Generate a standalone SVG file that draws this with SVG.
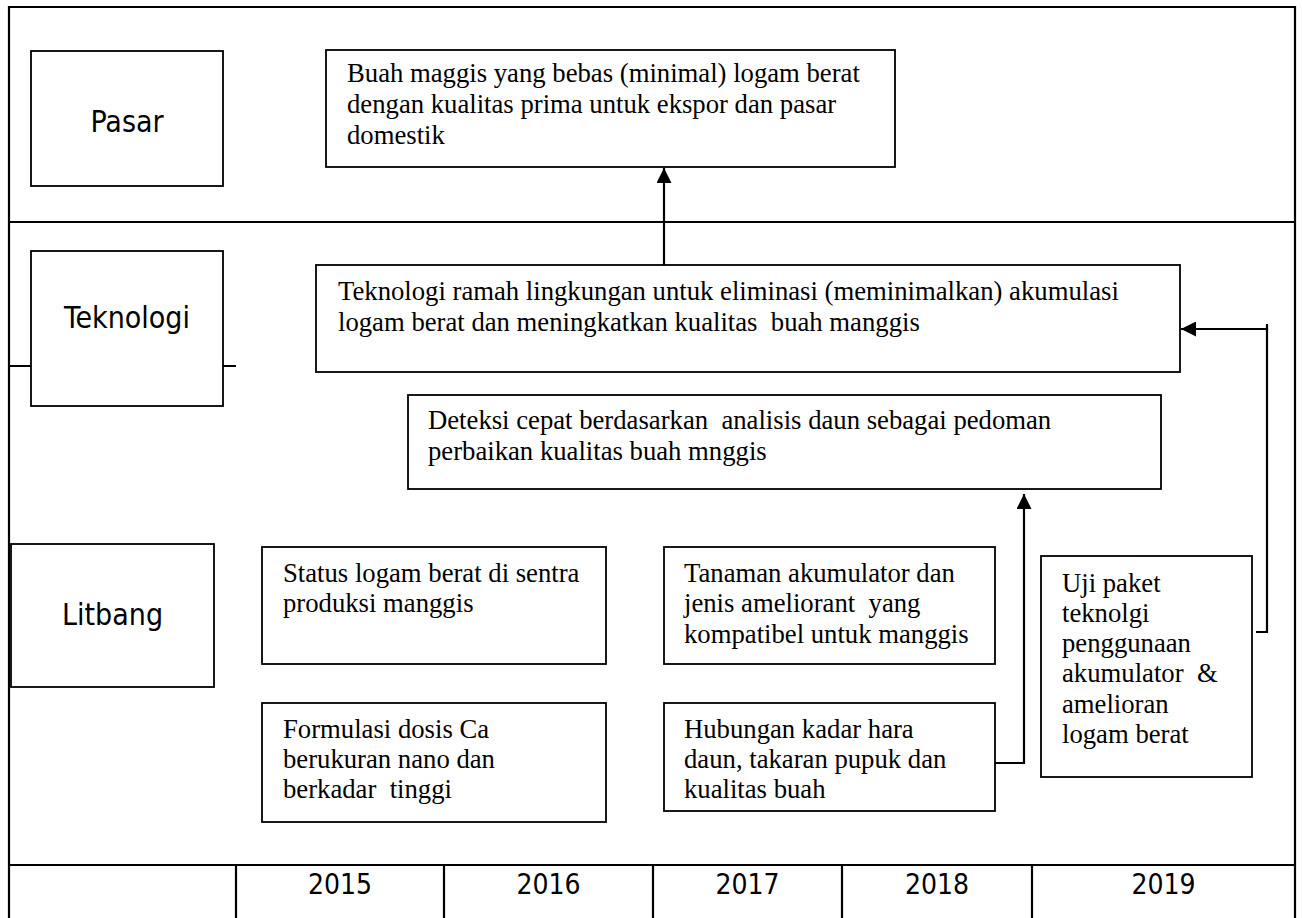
<svg xmlns="http://www.w3.org/2000/svg" width="1302" height="918" viewBox="0 0 1302 918">
<style>
.frame{stroke:#000;stroke-width:2.2;fill:none}
.box{fill:#fff;stroke:#000;stroke-width:1.8}
.lab{font-family:"DejaVu Sans Condensed","DejaVu Sans",sans-serif;font-stretch:condensed;font-size:30px;fill:#000;text-anchor:middle}
.yr{font-family:"DejaVu Sans Condensed","DejaVu Sans",sans-serif;font-stretch:condensed;font-size:28px;fill:#000;text-anchor:middle}
.t{font-family:"Liberation Serif","Times New Roman",serif;font-size:26.7px;fill:#000;white-space:pre}
.con{stroke:#000;stroke-width:2.2;fill:none}
</style>
<defs>
<marker id="ah" markerWidth="8" markerHeight="8" refX="7" refY="4" orient="auto" markerUnits="userSpaceOnUse" viewBox="0 0 8 8">
<path d="M0,0 L8,4 L0,8 Z" fill="#000"/>
</marker>
<marker id="arr" markerWidth="15" markerHeight="15" refX="15" refY="7.5" orient="auto" markerUnits="userSpaceOnUse">
<path d="M0,0 L15,7.5 L0,15 Z" fill="#000"/>
</marker>
</defs>
<rect width="1302" height="918" fill="#fff"/>
<g id="grid">
<line class="frame" x1="9" y1="7" x2="1295" y2="7"/>
<line class="frame" x1="9" y1="6" x2="9" y2="920"/>
<line class="frame" x1="1295" y1="6" x2="1295" y2="920"/>
<line class="frame" x1="9" y1="222" x2="1295" y2="222"/>
<line class="frame" x1="9" y1="366" x2="236" y2="366"/>
<line class="frame" x1="9" y1="865" x2="1295" y2="865"/>
<line class="frame" x1="236" y1="865" x2="236" y2="920"/>
<line class="frame" x1="444" y1="865" x2="444" y2="920"/>
<line class="frame" x1="653" y1="865" x2="653" y2="920"/>
<line class="frame" x1="842" y1="865" x2="842" y2="920"/>
<line class="frame" x1="1032" y1="865" x2="1032" y2="920"/>
<text class="yr" x="340" y="894">2015</text>
<text class="yr" x="548.5" y="894">2016</text>
<text class="yr" x="747.5" y="894">2017</text>
<text class="yr" x="937" y="894">2018</text>
<text class="yr" x="1163.5" y="894">2019</text>
</g>
<g id="pasar">
<rect class="box" x="31" y="51" width="192" height="135"/>
<text class="lab" x="127" y="132">Pasar</text>
</g>
<g id="teknologi">
<rect class="box" x="31" y="251" width="192" height="155"/>
<text class="lab" x="127" y="328">Teknologi</text>
</g>
<g id="litbang">
<rect class="box" x="11" y="544" width="203" height="143"/>
<text class="lab" x="112.5" y="625">Litbang</text>
</g>
<g id="buah">
<rect class="box" x="326" y="50" width="569" height="117"/>
<text class="t" x="347" y="82">Buah maggis yang bebas (minimal) logam berat</text>
<text class="t" x="347" y="113">dengan kualitas prima untuk ekspor dan pasar</text>
<text class="t" x="347" y="144">domestik</text>
</g>
<g id="teknologi-ramah">
<rect class="box" x="316" y="265" width="864" height="107"/>
<text class="t" x="338" y="300">Teknologi ramah lingkungan untuk eliminasi (meminimalkan) akumulasi</text>
<text class="t" x="338" y="331">logam berat dan meningkatkan kualitas  buah manggis</text>
</g>
<g id="deteksi">
<rect class="box" x="408" y="395" width="753" height="94"/>
<text class="t" x="428" y="429">Deteksi cepat berdasarkan  analisis daun sebagai pedoman</text>
<text class="t" x="428" y="460">perbaikan kualitas buah mnggis</text>
</g>
<g id="status">
<rect class="box" x="262" y="547" width="344" height="117"/>
<text class="t" x="283" y="582">Status logam berat di sentra</text>
<text class="t" x="283" y="612">produksi manggis</text>
</g>
<g id="formulasi">
<rect class="box" x="262" y="703" width="344" height="119"/>
<text class="t" x="283" y="738">Formulasi dosis Ca</text>
<text class="t" x="283" y="768">berukuran nano dan</text>
<text class="t" x="283" y="798">berkadar  tinggi</text>
</g>
<g id="tanaman">
<rect class="box" x="664" y="547" width="331" height="117"/>
<text class="t" x="684" y="582">Tanaman akumulator dan</text>
<text class="t" x="684" y="612">jenis ameliorant  yang</text>
<text class="t" x="684" y="643">kompatibel untuk manggis</text>
</g>
<g id="hubungan">
<rect class="box" x="664" y="703" width="331" height="108"/>
<text class="t" x="684" y="738">Hubungan kadar hara</text>
<text class="t" x="684" y="768">daun, takaran pupuk dan</text>
<text class="t" x="684" y="798">kualitas buah</text>
</g>
<g id="uji">
<rect class="box" x="1041" y="556" width="211" height="221"/>
<text class="t" x="1062" y="592">Uji paket</text>
<text class="t" x="1062" y="622">teknolgi</text>
<text class="t" x="1062" y="652">penggunaan</text>
<text class="t" x="1062" y="682">akumulator  &amp;</text>
<text class="t" x="1062" y="713">amelioran</text>
<text class="t" x="1062" y="743">logam berat</text>
</g>
<g id="connectors">
<line class="con" x1="664" y1="265" x2="664" y2="168" marker-end="url(#arr)"/>
<polyline class="con" points="995,763 1024,763 1024,494" marker-end="url(#arr)"/>
<polyline class="con" points="1256,632 1267,632 1267,329 1181,329" marker-end="url(#arr)"/>
<line class="con" x1="1267" y1="324" x2="1267" y2="330"/>
</g>
</svg>
